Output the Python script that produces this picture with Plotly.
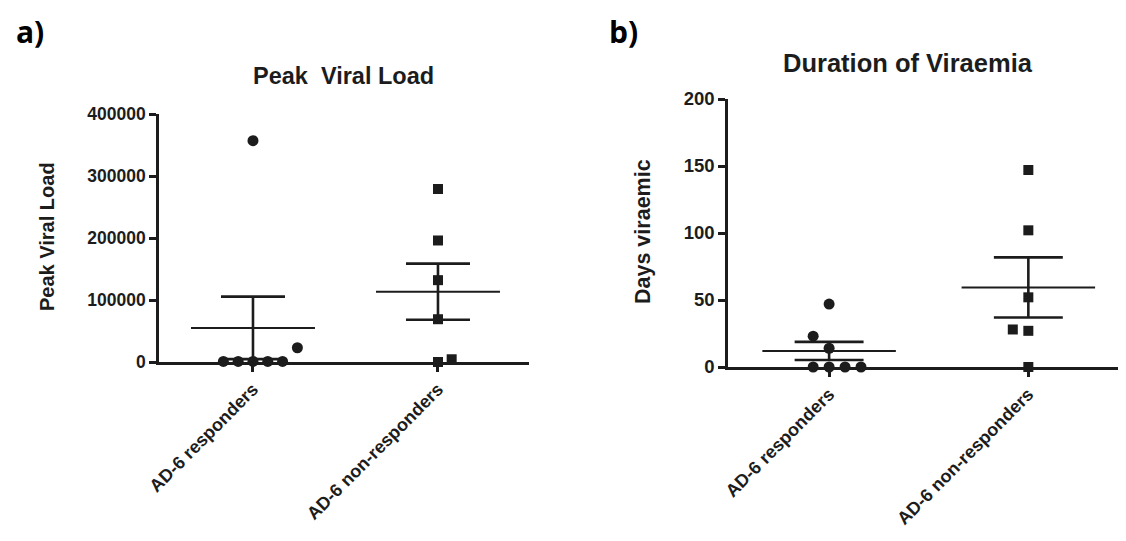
import numpy as np
import plotly.graph_objects as go

# ---------------- data ----------------
categories = ["AD-6 responders", "AD-6 non-responders"]

peak_responders = [357000, 23000, 1000, 1000, 1000, 1000, 1000]
peak_nonresponders = [279000, 196000, 132000, 69000, 0, 4400]

days_responders = [47, 23, 14, 0, 0, 0, 0]
days_nonresponders = [147, 102, 52, 28, 27, 0]

peak_ticks = [0, 100000, 200000, 300000, 400000]
days_ticks = [0, 50, 100, 150, 200]

# display jitter (GraphPad-style scatter spreading), in category units
jit_peak_resp = [0, 0.24, -0.16, -0.08, 0, 0.08, 0.16]
jit_peak_non = [0, 0, 0, 0, 0, 0.074]
jit_days_resp = [0, -0.08, 0, -0.08, 0, 0.08, 0.16]
jit_days_non = [0, 0, 0, -0.078, 0, 0]

INK = "#1c1c1c"
FONT = "Liberation Sans"
PAGE_MARGIN = 8          # default body margin of the html page
W, H = 1126 - 2 * PAGE_MARGIN, 541 - 2 * PAGE_MARGIN

fig = go.Figure()


def add_group(xa, ya, pos, vals, jit, symbol):
    vals = np.asarray(vals, dtype=float)
    xs = [pos + j for j in jit]
    fig.add_trace(go.Scatter(
        x=xs, y=vals, mode="markers", xaxis=xa, yaxis=ya,
        marker=dict(symbol=symbol, size=11 if symbol == "circle" else 10,
                    color=INK, line=dict(width=0)),
        cliponaxis=False, showlegend=False, hoverinfo="y"))
    m = vals.mean()
    sem = vals.std(ddof=1) / np.sqrt(len(vals))
    mw, cw = 0.335, 0.173
    line = dict(color=INK, width=2)
    seml = dict(color=INK, width=2.6)
    fig.add_trace(go.Scatter(x=[pos - mw, pos + mw], y=[m, m], mode="lines",
                             line=line, xaxis=xa, yaxis=ya, showlegend=False,
                             hoverinfo="skip"))
    fig.add_trace(go.Scatter(x=[pos, pos], y=[m - sem, m + sem], mode="lines",
                             line=seml, xaxis=xa, yaxis=ya, showlegend=False,
                             hoverinfo="skip"))
    for yv in (m - sem, m + sem):
        fig.add_trace(go.Scatter(x=[pos - cw, pos + cw], y=[yv, yv], mode="lines",
                                 line=seml, xaxis=xa, yaxis=ya, showlegend=False,
                                 hoverinfo="skip"))


add_group("x", "y", 1, peak_responders, jit_peak_resp, "circle")
add_group("x", "y", 2, peak_nonresponders, jit_peak_non, "square")
add_group("x2", "y2", 1, days_responders, jit_days_resp, "circle")
add_group("x2", "y2", 2, days_nonresponders, jit_days_non, "square")

tickfont = dict(family=FONT, size=17.5, color=INK, weight="bold")
tickfont2 = dict(family=FONT, size=18.5, color=INK, weight="bold")
xtickfont = dict(family=FONT, size=18, color=INK, weight="bold")
xtickfont2 = dict(family=FONT, size=18, color=INK, weight="bold")

axis_common = dict(showline=True, linecolor=INK, linewidth=2.5, ticks="outside",
                   ticklen=7, tickwidth=2.5, tickcolor=INK, showgrid=False,
                   zeroline=False, fixedrange=True, automargin=False)


def px_x(p):
    return (p - PAGE_MARGIN) / W


def px_y(p):
    return 1 - (p - PAGE_MARGIN) / H


fig.update_layout(
    template="none",
    width=W, height=H, margin=dict(l=0, r=0, t=0, b=0, pad=0),
    paper_bgcolor="white", plot_bgcolor="white", showlegend=False,
    xaxis=dict(domain=[px_x(159), px_x(529)], range=[0.492, 2.492],
               tickvals=[1, 2], ticktext=categories, tickangle=-45,
               tickfont=xtickfont, anchor="y", **axis_common),
    yaxis=dict(domain=[px_y(362), px_y(114)], range=[0, 400000],
               tickvals=peak_ticks, ticktext=[str(t) for t in peak_ticks],
               tickfont=tickfont, anchor="x", **axis_common),
    xaxis2=dict(domain=[px_x(728), 1.0], range=[0.4925, 2.45],
                tickvals=[1, 2], ticktext=categories, tickangle=-45,
                tickfont=xtickfont2, anchor="y2", **axis_common),
    yaxis2=dict(domain=[px_y(367), px_y(99)], range=[0, 200],
                tickvals=days_ticks, ticktext=[str(t) for t in days_ticks],
                tickfont=tickfont2, anchor="x2", **axis_common),
)

ann = []
ann.append(dict(text="a)", x=px_x(14), y=px_y(31), xref="paper", yref="paper",
                xanchor="left", yanchor="middle", showarrow=False,
                font=dict(family="Open Sans", size=30,
                          color="black", weight="bold")))
ann.append(dict(text="b)", x=px_x(607), y=px_y(31), xref="paper", yref="paper",
                xanchor="left", yanchor="middle", showarrow=False,
                font=dict(family="Open Sans", size=30,
                          color="black", weight="bold")))
ann.append(dict(text="Peak  Viral Load", x=px_x(343), y=px_y(76), xref="paper",
                yref="paper", xanchor="center", yanchor="middle", showarrow=False,
                font=dict(family=FONT, size=23.5, color=INK, weight="bold")))
ann.append(dict(text="Duration of Viraemia", x=px_x(908), y=px_y(63),
                xref="paper", yref="paper", xanchor="center", yanchor="middle",
                showarrow=False,
                font=dict(family=FONT, size=25.5, color=INK, weight="bold")))
ann.append(dict(text="Peak Viral Load", x=px_x(47), y=px_y(237), xref="paper",
                yref="paper", xanchor="center", yanchor="middle", textangle=-90,
                showarrow=False,
                font=dict(family=FONT, size=20, color=INK, weight="bold")))
ann.append(dict(text="Days viraemic", x=px_x(643), y=px_y(232), xref="paper",
                yref="paper", xanchor="center", yanchor="middle", textangle=-90,
                showarrow=False,
                font=dict(family=FONT, size=21.5, color=INK, weight="bold")))
fig.update_layout(annotations=ann)

fig.write_html("out.html")
